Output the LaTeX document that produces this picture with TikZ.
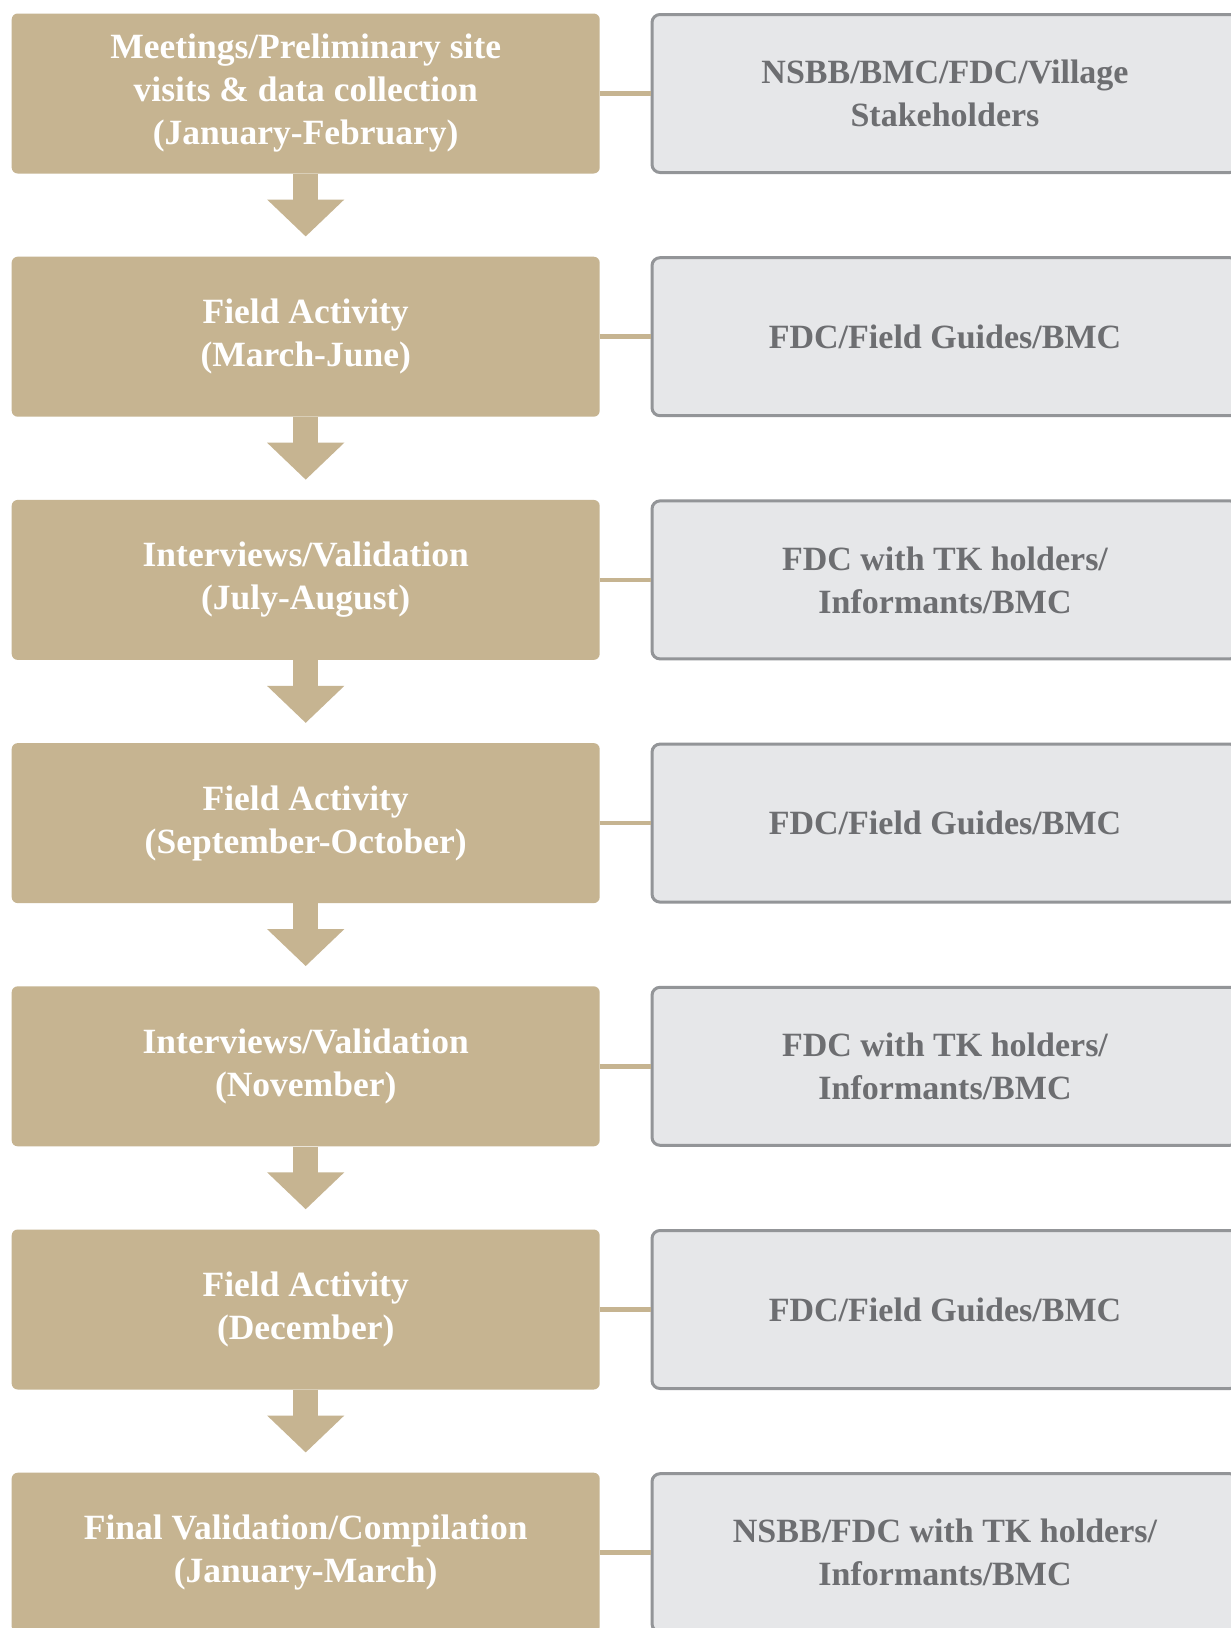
\documentclass[tikz,border=0pt]{standalone}
\usepackage{fontspec}
\setmainfont{Liberation Serif}
\usepackage{tikz}
\usetikzlibrary{arrows.meta}
\definecolor{tan}{HTML}{C6B491}
\definecolor{panel}{HTML}{E6E7E9}
\definecolor{rim}{HTML}{939598}
\definecolor{ink}{HTML}{6D6E71}
\tikzset{
  stage/.style={fill=tan, rounded corners=6pt, minimum width=588pt, minimum height=160pt,
    inner sep=0pt, text=white, align=center, font=\bfseries\fontsize{35.5}{43}\selectfont},
  party/.style={fill=panel, draw=rim, line width=3pt, rounded corners=8pt, minimum width=586pt,
    minimum height=158pt, inner sep=0pt, text=ink, align=center, font=\bfseries\fontsize{34}{43}\selectfont},
  flow/.style={draw=tan, line width=25pt, -{Triangle[width=75pt,length=37pt]}, shorten >=20pt},
  link/.style={draw=tan, line width=4.5pt}
}

\begin{document}
\begin{tikzpicture}[x=1pt,y=-1pt]
     \useasboundingbox[fill=white] (0,0) rectangle (1231,1628);
     % stages on the left, who takes part on the right
     \foreach \i/\what/\who in {
       1/{Meetings/Preliminary site\\visits \& data collection\\(January-February)}/{NSBB/BMC/FDC/Village\\Stakeholders},
       2/{Field Activity\\(March-June)}/{FDC/Field Guides/BMC},
       3/{Interviews/Validation\\(July-August)}/{FDC with TK holders/\\Informants/BMC},
       4/{Field Activity\\(September-October)}/{FDC/Field Guides/BMC},
       5/{Interviews/Validation\\(November)}/{FDC with TK holders/\\Informants/BMC},
       6/{Field Activity\\(December)}/{FDC/Field Guides/BMC},
       7/{Final Validation/Compilation\\(January-March)}/{NSBB/FDC with TK holders/\\Informants/BMC}} {
          \node[stage] (s\i) at (305.7,{93.5+(\i-1)*243.2}) {\what};
          \node[party] (p\i) at (945,{93.5+(\i-1)*243.2}) {\who};
          \draw[link] (s\i.east) -- (p\i.west);
     }
     \foreach \i [evaluate=\i as \j using int(\i+1)] in {1,...,6} {
          \draw[flow] (s\i.south) -- (s\j.north);
     }
\end{tikzpicture}
\end{document}
